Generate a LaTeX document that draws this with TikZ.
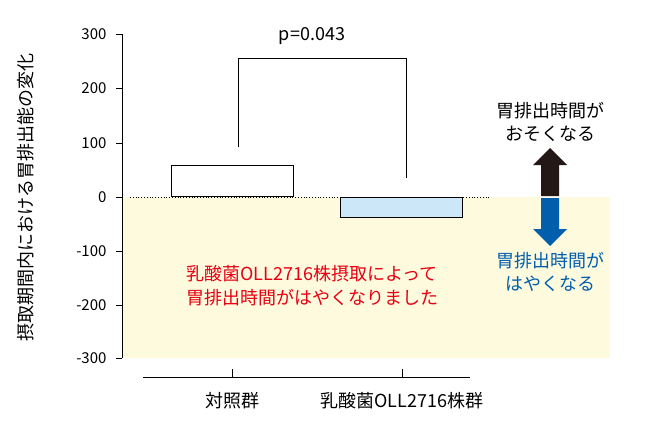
\documentclass[tikz,border=0pt]{standalone}
\usepackage{fontspec}
\setmainfont{Noto Sans CJK JP}[BoldFont={Noto Sans CJK JP Bold}]
\definecolor{bgy}{RGB}{253,250,222}
\definecolor{barb}{RGB}{204,232,248}
\definecolor{redt}{RGB}{230,0,18}
\definecolor{dark}{RGB}{35,24,21}
\definecolor{blu}{RGB}{0,94,173}
\begin{document}
\begin{tikzpicture}[x=1pt,y=-1pt,
  tick/.style={font=\fontsize{15}{17}\selectfont,anchor=east},
  lbl/.style={font=\fontsize{18}{21}\selectfont},
  bar/.style={draw=black,line width=1pt}]
\useasboundingbox (0,0) rectangle (650,440);
\fill[bgy] (122,197) rectangle (610,358);
\draw[line width=0.8pt] (122,34) -- (122,358);
\foreach \v/\y in {300/34,200/88,100/143,0/197,-100/251,-200/305,-300/358}{
  \draw[line width=0.8pt] (116,\y) -- (122,\y);
  \node[tick] at (110,\y) {\v};
}
\draw[dotted,line width=0.8pt] (130,197) -- (490,197);
\node[bar,fill=white,minimum width=122pt,minimum height=31pt,inner sep=0pt,anchor=south west] (b1) at (171,197) {};
\node[bar,fill=barb,minimum width=122pt,minimum height=20pt,inner sep=0pt,anchor=north west] (b2) at (340,197) {};
\coordinate (p1) at (238,147);
\coordinate (p2) at (406,178);
\draw[line width=1pt] (p1) -- (238,58) -- (406,58) -- (p2);
\node[lbl] (pv) at (312,36) {p=0.043};
\draw[line width=0.8pt] (143,377) -- (470,377);
\draw[line width=0.8pt] (232,377) -- (232,369);
\draw[line width=0.8pt] (402,377) -- (402,369);
\node[lbl] (x1) at (232,401) {対照群};
\node[lbl] (x2) at (402,401) {乳酸菌OLL2716株群};
\node[lbl,rotate=90] (yl) at (26,197) {摂取期間内における胃排出能の変化};
\node[lbl,text=redt,align=center,font=\fontsize{18}{24}\selectfont] (note) at (312,286) {乳酸菌OLL2716株摂取によって\\胃排出時間がはやくなりました};
\fill[dark] (541,196) -- (541,165) -- (533,165) -- (550,148) -- (567,165) -- (559,165) -- (559,196) -- cycle;
\fill[blu] (541,198) -- (541,229) -- (533,229) -- (550,246) -- (567,229) -- (559,229) -- (559,198) -- cycle;
\node[lbl,align=center,font=\fontsize{18}{23}\selectfont] (up) at (550,122) {胃排出時間が\\おそくなる};
\node[lbl,align=center,text=blu,font=\fontsize{18}{23}\selectfont] (dn) at (550,272) {胃排出時間が\\はやくなる};
\end{tikzpicture}
\end{document}
